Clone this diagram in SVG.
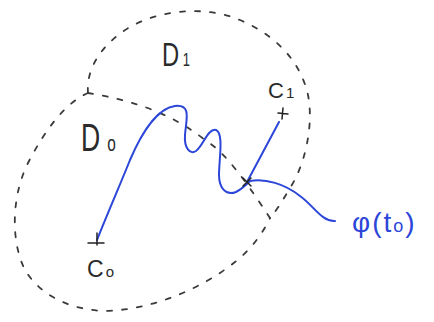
<svg xmlns="http://www.w3.org/2000/svg" width="434" height="322" viewBox="0 0 434 322">
<style>
.dash{fill:none;stroke:#3a3a3a;stroke-width:1.8;stroke-dasharray:5 10;stroke-linecap:round}
.blue{fill:none;stroke:#2b46d8;stroke-width:2;stroke-linecap:round;stroke-linejoin:round}
.mark{fill:none;stroke:#222;stroke-width:1.5;stroke-linecap:round}
.lbl{font-family:"Liberation Sans",Arial,sans-serif;fill:#2a2a2a}
.blbl{font-family:"Liberation Sans",Arial,sans-serif;fill:#2b46d8}
</style>
<rect width="434" height="322" fill="#fff"/>
<g id="connectors">
<path class="dash" d="M88,93 C86,70 100,45 130,27 C160,10 205,5 240,20 C275,35 300,60 308,95 C314,125 305,165 290,188 C283,200 277,210 270,218"/>
<path class="dash" d="M88,93 C65,103 45,130 28,163 C12,195 10,240 25,270 C40,295 70,310 105,311 C150,310 200,290 235,262 C250,250 262,235 270,218"/>
<path class="dash" d="M88,93 C130,100 170,112 205,140 C225,152 245,180 270,218"/>
<path class="blue" d="M97,240 C108,212 120,185 130,160 C142,132 158,108 175,106 C192,104 186,120 185,135 C184,148 190,155 196,151 C203,146 208,128 216,130 C224,133 219,160 219,175 C219,188 226,196 236,192 C242,189 246,185 250,181 C265,178 285,184 300,196 C314,206 322,222 335,221"/>
<path class="blue" d="M247,182 L279,122"/>
</g>
<g id="c0">
<path class="mark" d="M97,233 L97,245 M88,243 L104,243"/>
<text class="lbl" x="87" y="277" font-size="23">C<tspan dx="2" font-size="15">o</tspan></text>
</g>
<g id="c1">
<path class="mark" d="M283,108 L282,119 M278,113 L288,114"/>
<text class="lbl" x="268" y="98" font-size="22">C<tspan dx="2" font-size="15">1</tspan></text>
</g>
<g id="cross">
<path class="mark" d="M243,178 L251,186 M251,178 L243,186"/>
</g>
<g id="d0"><text class="lbl" x="81" y="151" font-size="38" transform="translate(81 151) scale(0.7 1) translate(-81 -151)">D<tspan dx="10" font-size="22">o</tspan></text></g>
<g id="d1"><text class="lbl" x="162" y="66" font-size="33" transform="translate(162 66) scale(0.72 1) translate(-162 -66)">D<tspan font-size="18"> 1</tspan></text></g>
<g id="phi"><text class="blbl" x="352" y="232" font-size="28" letter-spacing="2">φ(t<tspan font-size="18">o</tspan>)</text></g>
</svg>
